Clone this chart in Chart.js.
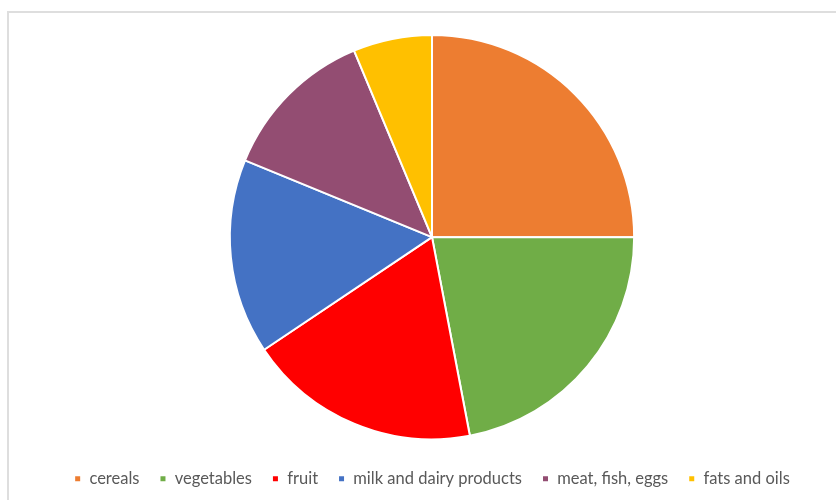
<!DOCTYPE html>
<html>
<head>
<meta charset="utf-8">
<script src="https://cdn.jsdelivr.net/npm/chart.js@4/dist/chart.umd.min.js"></script>
<style>
    html, body { margin: 0; padding: 0; background: #fff; }
    #frame {
        position: absolute; left: 7px; top: 11px; width: 840px; height: 500px;
        border-top: 2px solid #dedede; border-left: 2px solid #dedede;
    }
    #wrap { position: absolute; left: 0; top: 0; width: 836px; height: 500px; }
</style>
</head>
<body>
<div id="frame"></div>
<div id="wrap"><canvas id="foodChart" width="836" height="500"></canvas></div>
<script>
// Data
const categories = ['cereals', 'vegetables', 'fruit', 'milk and dairy products', 'meat, fish, eggs', 'fats and oils'];
const shares = [25, 22, 18.6, 15.6, 12.5, 6.3];
const sliceColors = ['#ED7D31', '#70AD47', '#FF0000', '#4472C4', '#934D72', '#FFC000'];

document.addEventListener('DOMContentLoaded', function() {
    setupPieChart();
});

function setupPieChart() {
    const ctx = document.getElementById('foodChart');
    new Chart(ctx, {
        type: 'pie',
        data: {
            labels: categories,
            datasets: [{
                data: shares,
                backgroundColor: sliceColors,
                borderColor: '#ffffff',
                borderWidth: 2
            }]
        },
        options: {
            responsive: false,
            animation: false,
            layout: { padding: { top: 34, bottom: 3, left: 28 } },
            plugins: {
                tooltip: { enabled: false },
                legend: {
                    position: 'bottom',
                    // empty title only used as spacer above the items
                    title: { display: true, text: '', font: { size: 1 }, padding: { top: 4, bottom: 5 } },
                    labels: {
                        boxWidth: 7,
                        boxHeight: 7,
                        padding: 20,
                        color: '#595959',
                        font: { family: 'Lato', size: 16.5 }
                    }
                }
            }
        }
    });
}
</script>
</body>
</html>
